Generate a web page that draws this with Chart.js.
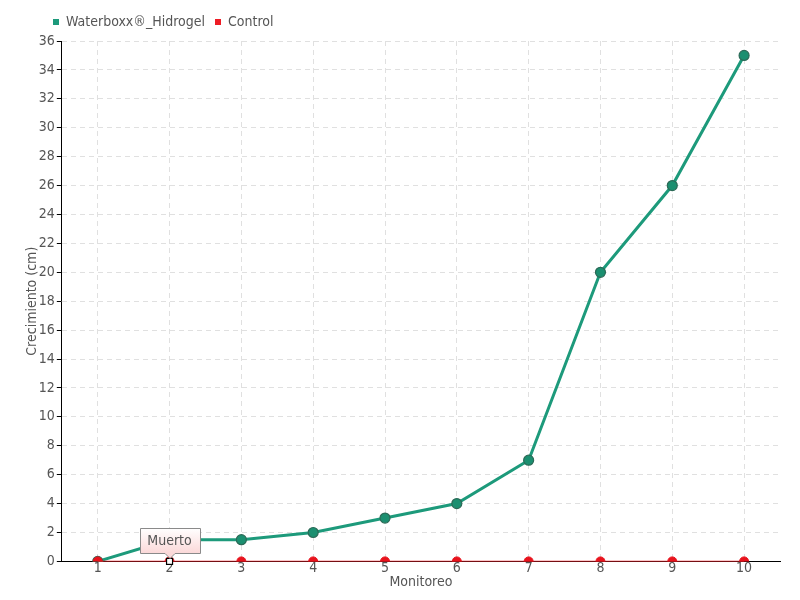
<!DOCTYPE html>
<html>
<head>
<meta charset="utf-8">
<script src="https://cdn.jsdelivr.net/npm/chart.js@4"></script>
<style>
html,body{margin:0;padding:0;background:#fff;}
#wrap{width:800px;height:600px;}
</style>
</head>
<body>
<div id="wrap"><canvas id="c" width="800" height="600"></canvas></div>
<script>
const categories = ['1','2','3','4','5','6','7','8','9','10'];
const waterboxx = [0, 1.5, 1.5, 2, 3, 4, 7, 20, 26, 35];
const control = [0, 0, 0, 0, 0, 0, 0, 0, 0, 0];
const seriesNames = ['Waterboxx®_Hidrogel', 'Control'];
const annotationIndex = 1;
const annotationText = 'Muerto';

const FONT = '"Liberation Sans Narrow", "DejaVu Sans Condensed", "Roboto", sans-serif';

const legendShift = {
  id: 'legendShift',
  afterLayout(chart) {
    if (chart.legend) {
      chart.legend.left += 19;
      chart.legend.top -= 2;
    }
  }
};

const notePlugin = {
  id: 'note',
  afterDatasetsDraw(chart) {
    const ctx = chart.ctx;
    const x = chart.scales.x.getPixelForValue(annotationIndex);
    const y = chart.scales.y.getPixelForValue(control[annotationIndex]);
    ctx.save();
    ctx.fillStyle = '#fff';
    ctx.strokeStyle = '#000';
    ctx.lineWidth = 1.2;
    ctx.fillRect(x - 3, y - 3, 6, 6);
    ctx.strokeRect(x - 3, y - 3, 6, 6);
    const w = 60, h = 25;
    const bx = Math.round(x - 30), by = Math.round(y - 33);
    const g = ctx.createLinearGradient(0, by, 0, by + h);
    g.addColorStop(0, '#ffffff');
    g.addColorStop(1, '#fbd9d9');
    ctx.beginPath();
    ctx.moveTo(bx + 0.5, by + 0.5);
    ctx.lineTo(bx + w + 0.5, by + 0.5);
    ctx.lineTo(bx + w + 0.5, by + h + 0.5);
    ctx.lineTo(x + 5.5, by + h + 0.5);
    ctx.lineTo(x + 0.5, by + h + 5.5);
    ctx.lineTo(x - 4.5, by + h + 0.5);
    ctx.lineTo(bx + 0.5, by + h + 0.5);
    ctx.closePath();
    ctx.fillStyle = g;
    ctx.fill();
    ctx.strokeStyle = '#8a8a8a';
    ctx.lineWidth = 1;
    ctx.stroke();
    ctx.fillStyle = '#555';
    ctx.font = '14px ' + FONT;
    ctx.textAlign = 'center';
    ctx.textBaseline = 'middle';
    ctx.fillText(annotationText, x, by + h / 2 + 1);
    ctx.restore();
  }
};

new Chart(document.getElementById('c'), {
  type: 'line',
  data: {
    labels: categories,
    datasets: [
      {
        label: seriesNames[0],
        data: waterboxx,
        borderColor: '#1d9a7b',
        backgroundColor: '#1d9a7b',
        borderWidth: 3,
        pointRadius: 5,
        pointBackgroundColor: '#1b8f70',
        pointBorderColor: '#2c6a57',
        pointBorderWidth: 1.2,
        tension: 0,
        order: 2
      },
      {
        label: seriesNames[1],
        data: control,
        borderColor: '#ee1c25',
        backgroundColor: '#ee1c25',
        borderWidth: 1.5,
        pointRadius: 4.5,
        pointBackgroundColor: '#e8131d',
        pointBorderColor: '#e8131d',
        pointBorderWidth: 1,
        tension: 0,
        order: 1
      }
    ]
  },
  options: {
    responsive: false,
    animation: false,
    layout: { padding: { left: 24, right: 20, top: 7, bottom: 9 } },
    plugins: {
      tooltip: { enabled: false },
      legend: {
        position: 'top',
        align: 'start',
        labels: {
          boxWidth: 6,
          boxHeight: 6,
          padding: 10,
          color: '#555',
          font: { family: FONT, size: 14 },
          generateLabels(chart) {
            return chart.data.datasets.map((d, i) => ({
              text: d.label,
              fillStyle: d.borderColor,
              strokeStyle: d.borderColor,
              lineWidth: 0,
              fontColor: '#555',
              datasetIndex: i,
              hidden: false
            }));
          }
        }
      }
    },
    scales: {
      x: {
        offset: true,
        title: { display: true, text: 'Monitoreo', color: '#555', font: { family: FONT, size: 14 }, padding: { top: -2, bottom: 0 } },
        ticks: { color: '#555', font: { family: FONT, size: 14 }, padding: -1, maxRotation: 0 },
        grid: { color: '#e0e0e0', drawTicks: false, offset: false },
        border: { color: '#000', width: 1, dash: [5, 4] }
      },
      y: {
        min: 0,
        max: 36,
        title: { display: true, text: 'Crecimiento (cm)', color: '#555', font: { family: FONT, size: 14 }, padding: { top: 0, bottom: -4 } },
        ticks: { stepSize: 2, color: '#555', font: { family: FONT, size: 14 }, padding: 2 },
        grid: { color: '#e0e0e0', tickColor: '#000', tickLength: 5, tickBorderDash: [] },
        border: { color: '#000', width: 1, dash: [5, 4] }
      }
    }
  },
  plugins: [legendShift, notePlugin]
});
</script>
</body>
</html>
